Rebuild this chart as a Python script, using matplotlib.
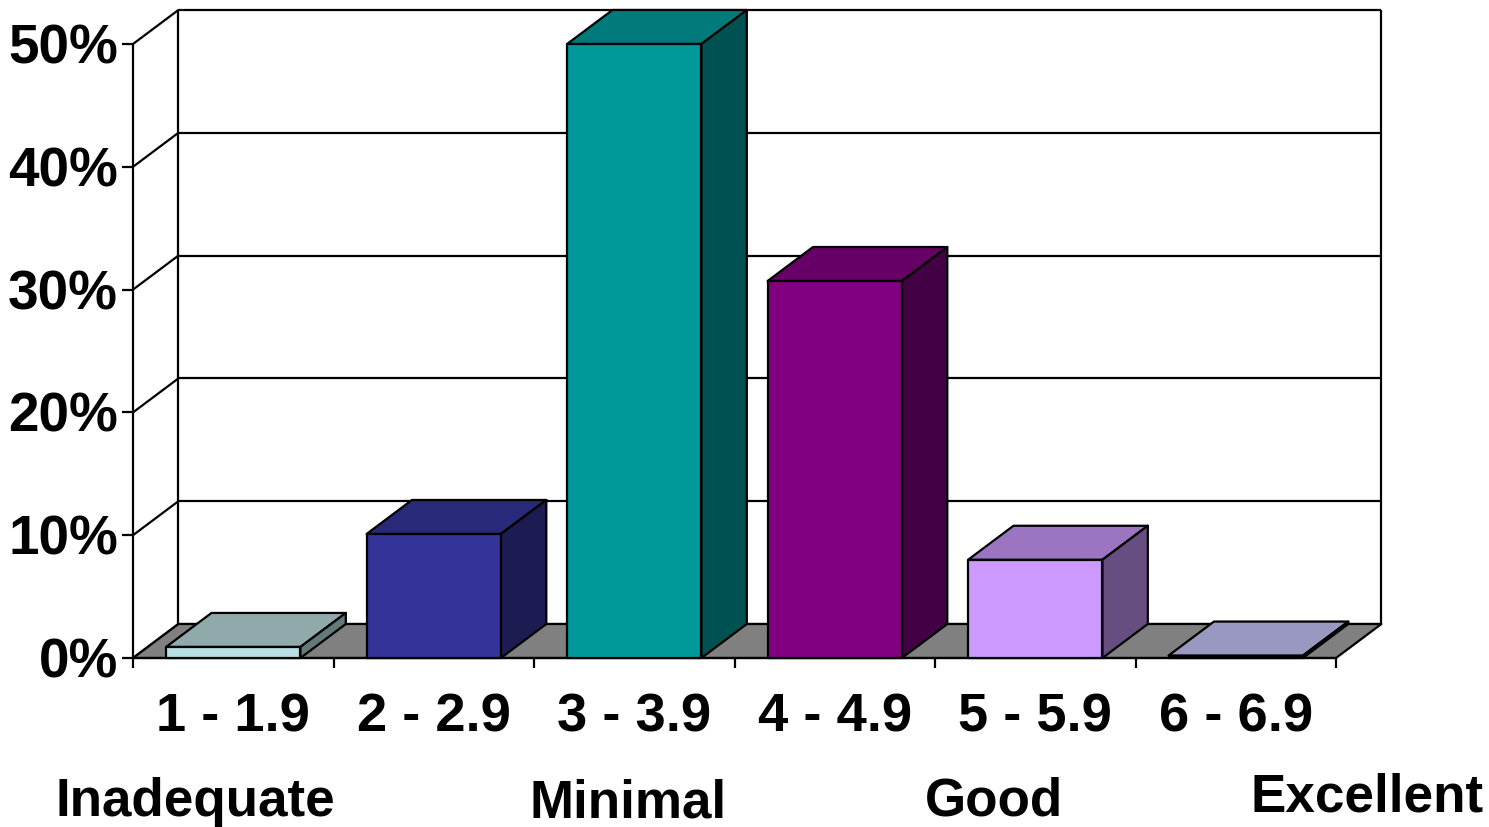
import numpy as np
import matplotlib
matplotlib.use("Agg")
import matplotlib.pyplot as plt
from matplotlib.patches import Polygon

plt.rcParams['font.family'] = ['Liberation Sans', 'DejaVu Sans']

categories = ["1 - 1.9", "2 - 2.9", "3 - 3.9", "4 - 4.9", "5 - 5.9", "6 - 6.9"]
values = [0.9, 10.1, 50.0, 30.7, 8.0, 0.2]
front_colors = ["#b8e0e4", "#333399", "#009999", "#800080", "#cc99ff", "#9999c0"]
top_colors = ["#90a9aa", "#29297a", "#007a7a", "#660066", "#9c75c2", "#9898c0"]
side_colors = ["#637a7a", "#1c1c52", "#005252", "#440044", "#664f80", "#66667f"]
y_ticks = [0, 10, 20, 30, 40, 50]
ratings = ["Inadequate", "Minimal", "Good", "Excellent"]

W, H = 1489, 827
fig = plt.figure(figsize=(W / 100, H / 100), dpi=100)

# front plane of the plot, everything else is offset from it
left, right, bottom, top = 133, 1336, 658, 44
ax = fig.add_axes([left / W, 1 - bottom / H, (right - left) / W, (bottom - top) / H])
ax.set_xlim(-0.5, 5.5)
ax.set_ylim(0, 50)
ax.axis("off")

# depth of the 3d box in data units
dx = 45.4 / ((right - left) / 6)
dy = 34 / ((bottom - top) / 50)
bar_width = 0.67
LW = 1.6


def poly(pts, fc="none", lw=LW, z=2):
    ax.add_patch(Polygon(pts, closed=True, facecolor=fc, edgecolor="black",
                         linewidth=lw, clip_on=False, zorder=z, joinstyle="round"))


def line(xs, ys, z=1):
    ax.plot(xs, ys, color="black", lw=LW, clip_on=False, zorder=z, solid_capstyle="butt")


x0, x1 = -0.5, 5.5

# floor
poly([(x0, 0), (x0 + dx, dy), (x1 + dx, dy), (x1, 0)], fc="#808080")

# back wall gridlines and the diagonals on the left wall
for t in y_ticks:
    line([x0 + dx, x1 + dx], [t + dy, t + dy])
    line([x0, x0 + dx], [t, t + dy])
    line([x0 - 0.055, x0], [t, t])
line([x0 + dx, x0 + dx], [dy, 50 + dy])
line([x1 + dx, x1 + dx], [dy, 50 + dy])
line([x0, x0], [0, 50])

# front edge and tick marks
line([x0, x1], [0, 0], z=3)
for i in range(7):
    line([x0 + i, x0 + i], [0, -0.85], z=3)

# bars, drawn left to right as three faces
for i, v in enumerate(values):
    a, b = i - bar_width / 2, i + bar_width / 2
    poly([(a, v), (a + dx, v + dy), (b + dx, v + dy), (b, v)], fc=top_colors[i], z=4)
    poly([(b, 0), (b + dx, dy), (b + dx, v + dy), (b, v)], fc=side_colors[i], z=4)
    poly([(a, 0), (b, 0), (b, v), (a, v)], fc=front_colors[i], z=5)

for t in y_ticks:
    ax.text(x0 - 0.075, t - 0.45, f"{t}%", ha="right", va="center", fontsize=39.5,
            fontweight="bold", clip_on=False)

for i, c in enumerate(categories):
    ax.text(i, -4.85, c, ha="center", va="center", fontsize=39.2,
            fontweight="bold", clip_on=False)

# rating words under the category labels
rating_x = [195, 628, 994, 1367]
rating_y = [802, 804, 802, 797]
for s, px, py in zip(ratings, rating_x, rating_y):
    fig.text(px / W, 1 - py / H, s, ha="center", va="center", fontsize=38.2,
             fontweight="bold")

fig.savefig("out.png", dpi=100, facecolor="white")
